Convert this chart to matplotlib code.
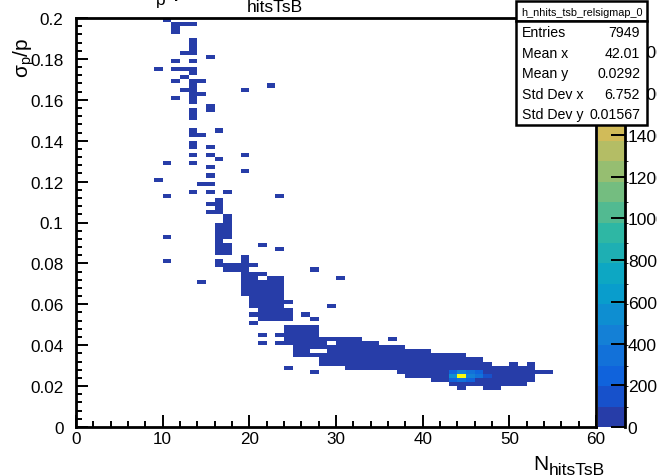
import numpy as np
import matplotlib
matplotlib.use('Agg')
import matplotlib.pyplot as plt
from matplotlib.colors import LinearSegmentedColormap, ListedColormap, BoundaryNorm
from matplotlib.patches import Rectangle
from matplotlib.ticker import MultipleLocator, FuncFormatter

plt.rcParams['font.family'] = ['Liberation Sans', 'DejaVu Sans']
plt.rcParams['mathtext.fontset'] = 'custom'
plt.rcParams['mathtext.rm'] = 'Liberation Sans'
plt.rcParams['mathtext.it'] = 'Liberation Sans'

W, H = 657, 477

# binning of h_nhits_tsb_relsigmap_0
n_xbins, x_lo, x_hi = 60, 0, 60
n_ybins, y_lo, y_hi = 100, 0.0, 0.2

# filled cells, column by column: (x bin, first y bin, last y bin, entries per cell)
runs = [
    (9, 87, 87, 1), (9, 60, 60, 1),
    (10, 99, 99, 1), (10, 64, 64, 1), (10, 56, 56, 1), (10, 46, 46, 1), (10, 40, 40, 1),
    (11, 96, 98, 1), (11, 89, 89, 1), (11, 87, 87, 1), (11, 84, 84, 1), (11, 80, 80, 1),
    (12, 98, 98, 1), (12, 91, 91, 1), (12, 87, 87, 1), (12, 85, 85, 1), (12, 82, 82, 1),
    (13, 98, 98, 1), (13, 91, 94, 2), (13, 89, 89, 1), (13, 86, 87, 2), (13, 79, 84, 3),
    (13, 75, 77, 2), (13, 71, 72, 2), (13, 68, 69, 2), (13, 66, 66, 1), (13, 64, 64, 1),
    (13, 57, 57, 1),
    (14, 84, 84, 1), (14, 81, 81, 1), (14, 71, 71, 1), (14, 59, 59, 1), (14, 35, 35, 1),
    (15, 90, 90, 1), (15, 77, 78, 2), (15, 68, 68, 1), (15, 66, 66, 1), (15, 63, 63, 1),
    (15, 61, 61, 1), (15, 59, 59, 1), (15, 57, 57, 1), (15, 54, 54, 1), (15, 52, 52, 1),
    (16, 72, 72, 1), (16, 65, 65, 1), (16, 52, 55, 4), (16, 42, 49, 8), (16, 39, 40, 3),
    (17, 57, 57, 1), (17, 50, 51, 4), (17, 46, 49, 8), (17, 42, 44, 8), (17, 38, 39, 5),
    (18, 38, 39, 6),
    (19, 82, 82, 1), (19, 66, 66, 1), (19, 62, 62, 1), (19, 32, 41, 15),
    (20, 39, 39, 2), (20, 29, 37, 20), (20, 27, 27, 1), (20, 25, 25, 1),
    (21, 44, 44, 1), (21, 37, 37, 15), (21, 26, 35, 20), (21, 22, 22, 1), (21, 20, 20, 1),
    (22, 83, 83, 1), (22, 26, 36, 25),
    (23, 56, 56, 1), (23, 43, 43, 1), (23, 26, 36, 25), (23, 22, 22, 1), (23, 20, 20, 1),
    (24, 30, 30, 10), (24, 26, 28, 15), (24, 20, 24, 25), (24, 14, 14, 1),
    (25, 17, 24, 30),
    (26, 27, 27, 2), (26, 17, 24, 35),
    (27, 38, 38, 1), (27, 26, 26, 2), (27, 19, 24, 35), (27, 17, 17, 20), (27, 13, 13, 1),
    (28, 19, 21, 40), (28, 15, 17, 40),
    (29, 29, 29, 1), (29, 21, 21, 30), (29, 15, 19, 45),
    (30, 36, 36, 1), (30, 15, 21, 50),
    (31, 14, 21, 55), (32, 14, 21, 60), (33, 14, 20, 60), (34, 14, 20, 65),
    (35, 14, 19, 70), (36, 21, 21, 5), (36, 14, 19, 70),
    (37, 13, 19, 75), (38, 12, 18, 80), (39, 12, 18, 85), (40, 12, 18, 85),
    (41, 11, 17, 90), (42, 11, 17, 90), (43, 10, 17, 90), (44, 9, 17, 90),
    (45, 10, 16, 90), (46, 10, 16, 85), (47, 9, 15, 70), (48, 9, 14, 50),
    (49, 10, 14, 40), (50, 10, 15, 30), (51, 10, 14, 20), (52, 11, 15, 10),
    (53, 13, 13, 3), (54, 13, 13, 2),
]

# dense core of the distribution: (x bin, y bin, entries)
core = [
    (44, 12, 1880), (43, 12, 520), (44, 13, 420), (45, 12, 450), (45, 13, 330),
    (44, 11, 380), (43, 11, 220), (43, 13, 240), (45, 11, 260), (46, 12, 300),
    (46, 13, 220), (47, 12, 180),
]

stats_labels = ['Entries', 'Mean x', 'Mean y', 'Std Dev x', 'Std Dev y']
stats_values = ['7949', '42.01', '0.0292', '6.752', '0.01567']

z_max = 1960
n_levels = 20
z_ticks = list(range(0, 2000, 200))

# ROOT kBird palette
bird_stops = [0.0, 0.125, 0.25, 0.375, 0.5, 0.625, 0.75, 0.875, 1.0]
bird_r = [0.2082, 0.0592, 0.0780, 0.0232, 0.1802, 0.5301, 0.8186, 0.9956, 0.9764]
bird_g = [0.1664, 0.3599, 0.5041, 0.6419, 0.7178, 0.7492, 0.7328, 0.7862, 0.9832]
bird_b = [0.5293, 0.8684, 0.8385, 0.7914, 0.6425, 0.4662, 0.3499, 0.1968, 0.0539]


def bird_colors(n):
    cdict = {
        'red': [(s, v, v) for s, v in zip(bird_stops, bird_r)],
        'green': [(s, v, v) for s, v in zip(bird_stops, bird_g)],
        'blue': [(s, v, v) for s, v in zip(bird_stops, bird_b)],
    }
    cont = LinearSegmentedColormap('bird', cdict, N=255)
    return ListedColormap([cont((i + 0.99) / n) for i in range(n)])


def fill_hist():
    h = np.zeros((n_ybins, n_xbins))
    for xb, j0, j1, n in runs:
        h[j0:j1 + 1, xb] = n
    for xb, yb, n in core:
        h[yb, xb] = n
    return np.ma.masked_equal(h, 0)


def px(x, y):
    return x / W, 1 - y / H


def latex_row(fig, x0, pieces):
    # lay out text pieces one after another, each with its own size and baseline
    renderer = fig.canvas.get_renderer()
    x = x0
    for text, size, base in pieces:
        t = fig.text(*px(x, base), text, fontsize=size, ha='left', va='baseline')
        x += t.get_window_extent(renderer).width


fig = plt.figure(figsize=(W / 100, H / 100), dpi=100)
ax = fig.add_axes([76 / W, 49 / H, 520 / W, 409 / H])
cax = fig.add_axes([598 / W, 49 / H, 27 / W, 409 / H])

cmap = bird_colors(n_levels)
norm = BoundaryNorm(np.linspace(0, z_max, n_levels + 1), n_levels)
xedges = np.linspace(x_lo, x_hi, n_xbins + 1)
yedges = np.linspace(y_lo, y_hi, n_ybins + 1)
mesh = ax.pcolormesh(xedges, yedges, fill_hist(), cmap=cmap, norm=norm,
                     edgecolors='none', antialiased=False)

ax.set_xlim(x_lo, x_hi)
ax.set_ylim(y_lo, y_hi)
ax.xaxis.set_major_locator(MultipleLocator(10))
ax.xaxis.set_minor_locator(MultipleLocator(2))
ax.yaxis.set_major_locator(MultipleLocator(0.02))
ax.yaxis.set_minor_locator(MultipleLocator(0.004))
ax.yaxis.set_major_formatter(FuncFormatter(lambda v, p: '%g' % round(v, 4)))
ax.tick_params(which='both', direction='in', top=False, right=False,
               labelsize=12.3, width=1.4)
ax.tick_params(which='major', length=8.8)
ax.tick_params(which='minor', length=4.4)
ax.tick_params(axis='x', pad=3)
ax.tick_params(axis='y', pad=9)
for s in ax.spines.values():
    s.set_linewidth(2)

cbar = fig.colorbar(mesh, cax=cax, ticks=z_ticks)
cbar.outline.set_visible(False)
cax.tick_params(direction='in', length=10, width=1.4, labelsize=12.6, pad=2)
cax.plot([1, 1], [0, 1], transform=cax.transAxes, color='black', lw=2, clip_on=False)

# axis titles
fig.text(*px(24, 38), r'$\mathrm{σ_{p}/p}$', rotation=90, ha='center', va='top', fontsize=15)
latex_row(fig, 533, [('N', 15, 470), ('hitsTsB', 12.6, 475)])

# title, mostly above the canvas edge
latex_row(fig, 140, [('σ', 18.8, -4), ('p', 12.5, 4.5), ('/p vs N', 18.8, -4),
                     ('hitsTsB', 12.5, 12)])

# statistics box
box_l, box_r = 516, 647
fig.patches.append(Rectangle(px(box_l, 22), (box_r - box_l) / W, 20 / H,
                             transform=fig.transFigure, facecolor='white',
                             edgecolor='black', lw=1.8, zorder=5))
fig.patches.append(Rectangle(px(box_l, 126), (box_r - box_l) / W, 104 / H,
                             transform=fig.transFigure, facecolor='white',
                             edgecolor='black', lw=1.8, zorder=5))
fig.text(*px((box_l + box_r) / 2, 12.5), 'h_nhits_tsb_relsigmap_0', fontsize=7.8,
         ha='center', va='center', zorder=6)
for i, (lab, val) in enumerate(zip(stats_labels, stats_values)):
    yy = 33 + i * 20.6
    fig.text(*px(522, yy), lab, fontsize=10.2, ha='left', va='center', zorder=6)
    fig.text(*px(640, yy), val, fontsize=10.2, ha='right', va='center', zorder=6)

fig.savefig('out.png', dpi=100)
